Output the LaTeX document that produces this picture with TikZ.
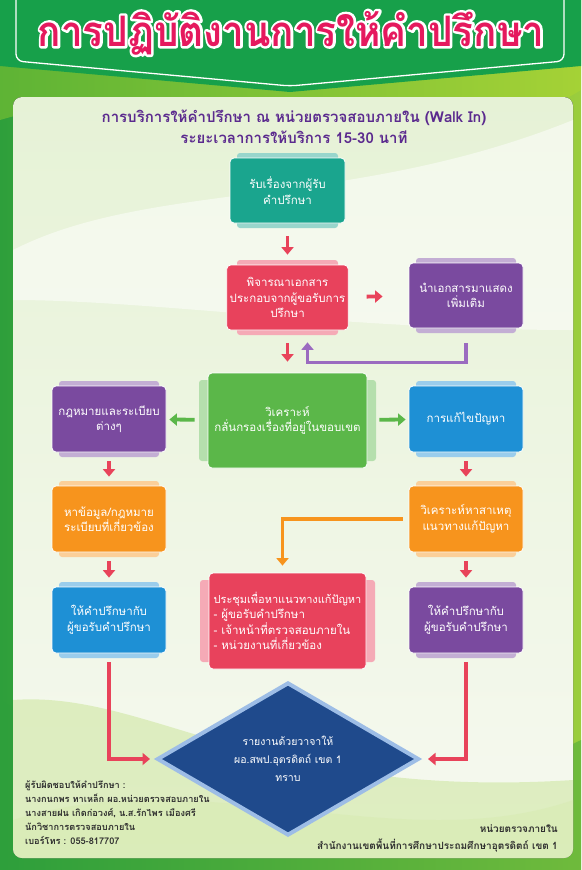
\documentclass[tikz,border=0pt]{standalone}
\usepackage{fontspec}
\setmainfont[Script=Thai]{Loma}
\usetikzlibrary{arrows.meta,shapes.geometric,calc}
\definecolor{bgdark}{HTML}{2E9F3B}
\definecolor{bglight}{HTML}{9BCD3D}
\definecolor{bannerg}{HTML}{17A04A}
\definecolor{titlepink}{HTML}{E5195E}
\definecolor{subpurple}{HTML}{5B2A8E}
\definecolor{cteal}{HTML}{1AA58E}
\definecolor{cred}{HTML}{E8425C}
\definecolor{cpurple}{HTML}{7A4A9F}
\definecolor{cgreen}{HTML}{5BB749}
\definecolor{cblue}{HTML}{1E90D5}
\definecolor{corange}{HTML}{F7941D}
\definecolor{cnavy}{HTML}{1F4A8C}
\definecolor{cdiamedge}{HTML}{9DBDE6}
\definecolor{arrred}{HTML}{E8435A}
\definecolor{arrgreen}{HTML}{5BB749}
\definecolor{arrpurple}{HTML}{9B6BC0}
\definecolor{panelA}{HTML}{E6F2D6}
\definecolor{panelB}{HTML}{F6F9F0}
\definecolor{foottext}{HTML}{2F2F2F}
\newcommand\mytabbox[7]{%
  \fill[#6!45!white, rounded corners=3pt] ({#2-#4/2+7},{#3-#5/2-5}) rectangle ({#2+#4/2-7},{#3+#5/2+5});
  \node[box, fill=#6, minimum width=#4pt, minimum height=#5pt] (#1) at (#2,#3) {#7};
}
\newcommand\mysidebox[8]{%
  \fill[#6!45!white, rounded corners=3pt] ({#2-#4/2-9},{#3-#5/2+7}) rectangle ({#2+#4/2+9},{#3+#5/2-7});
  \node[box, fill=#6, minimum width=#4pt, minimum height=#5pt, align=#8] (#1) at (#2,#3) {#7};
}
\newcommand\titletext{การปฏิบัติงานการให้คำปรึกษา}
\begin{document}
\begin{tikzpicture}[x=1pt,y=-1pt,
  box/.style={rounded corners=4pt, text=white, align=center, draw=white, line width=0.8pt, inner sep=3pt, font=\fontsize{11.5}{15.5}\selectfont},
  redarr/.style={draw=arrred, line width=3.8pt, -{Triangle[length=7.5pt,width=12pt]}},
  greenarr/.style={draw=arrgreen, line width=3.8pt, -{Triangle[length=7.5pt,width=12pt]}},
  purparr/.style={draw=arrpurple, line width=3.8pt, -{Triangle[length=7.5pt,width=12pt]}},
  orarr/.style={draw=corange, line width=3.8pt, -{Triangle[length=7.5pt,width=12pt]}},
  titlefont/.style={font=\bfseries\fontsize{42}{46}\selectfont},
  foot/.style={text=foottext, font=\bfseries\fontsize{9.2}{14}\selectfont, inner sep=0pt}]
\useasboundingbox (0,0) rectangle (581,870);
% background
\fill[left color=bgdark, right color=bglight] (0,0) rectangle (581,870);
\fill[bglight!70!yellow, opacity=0.35] (0,120) .. controls (200,60) and (400,200) .. (581,90) -- (581,0) -- (0,0) -- cycle;
\fill[bgdark, opacity=0.4] (0,870) -- (0,700) .. controls (200,820) and (400,830) .. (581,740) -- (581,870) -- cycle;
% banner
\fill[bannerg] (0,0) -- (0,66) -- (290,92) -- (581,66) -- (581,0) -- cycle;
\draw[white, line width=1.3pt, rounded corners=7pt] (16,-5) -- (16,61) -- (290,86) -- (564,61) -- (564,-5);
\node[titlefont, text=white] (titleedge) at (291,33) {\scalebox{0.92}[1]{\special{pdf:literal direct 2 Tr 5 w 1 j}\titletext\special{pdf:literal direct 0 Tr 0.4 w}}};
\node[titlefont, text=titlepink] (title) at (291,33) {\scalebox{0.92}[1]{\titletext}};
% panel
\fill[top color=panelA, bottom color=panelB, rounded corners=9pt] (13,97) rectangle (573,858);
\begin{scope}
\clip[rounded corners=9pt] (13,97) rectangle (573,858);
\fill[white, opacity=0.5] (13,250) .. controls (150,180) and (350,210) .. (573,120) -- (573,330) .. controls (350,330) and (150,300) .. (13,300) -- cycle;
\fill[bglight!60!white, opacity=0.45] (13,700) .. controls (150,690) and (260,800) .. (573,780) -- (573,858) -- (13,858) -- cycle;
\fill[bglight!40!white, opacity=0.5] (13,820) .. controls (200,760) and (400,860) .. (573,800) -- (573,858) -- (13,858) -- cycle;
\end{scope}
% subtitle
\node[text=subpurple, font=\bfseries\fontsize{15}{21}\selectfont, align=center] (sub) at (294,127) {การบริการให้คำปรึกษา ณ หน่วยตรวจสอบภายใน (Walk In)\\ระยะเวลาการให้บริการ 15-30 นาที};
% boxes
\mytabbox{b1}{287.5}{190.5}{115}{65}{cteal}{รับเรื่องจากผู้รับ\\คำปรึกษา}
\mytabbox{b2}{287.5}{297.5}{115}{65}{cred}{พิจารณาเอกสาร\\ประกอบจากผู้ขอรับการ\\ปรึกษา}
\mytabbox{b3}{466}{295.5}{114}{65}{cpurple}{นำเอกสารมาแสดง\\เพิ่มเติม}
\mysidebox{b4}{287.5}{420.5}{159}{95}{cgreen}{วิเคราะห์\\กลั่นกรองเรื่องที่อยู่ในขอบเขต}{center}
\mytabbox{L1}{109}{419}{114}{66}{cpurple}{กฎหมายและระเบียบ\\ต่างๆ}
\mytabbox{R1}{466}{419}{114}{66}{cblue}{การแก้ไขปัญหา}
\mytabbox{L2}{109}{519}{114}{66}{corange}{หาข้อมูล/กฎหมาย\\ระเบียบที่เกี่ยวข้อง}
\mytabbox{R2}{466}{519}{114}{66}{corange}{วิเคราะห์หาสาเหตุ\\แนวทางแก้ปัญหา}
\mytabbox{L3}{109}{620}{114}{66}{cblue}{ให้คำปรึกษากับ\\ผู้ขอรับคำปรึกษา}
\mytabbox{R3}{466}{620}{114}{66}{cpurple}{ให้คำปรึกษากับ\\ผู้ขอรับคำปรึกษา}
\mysidebox{C3}{287.5}{621}{157}{96}{cred}{\fontsize{11}{15.5}\selectfont ประชุมเพื่อหาแนวทางแก้ปัญหา\\- ผู้ขอรับคำปรึกษา\\- เจ้าหน้าที่ตรวจสอบภายใน\\- หน่วยงานที่เกี่ยวข้อง}{left}
% diamond
\node[diamond, fill=cnavy, draw=cdiamedge, line width=4pt, minimum width=262pt, minimum height=132pt, text=white, align=center, inner sep=0pt, font=\fontsize{10.5}{18}\selectfont] (D) at (288,759) {รายงานด้วยวาจาให้\\ผอ.สพป.อุตรดิตถ์ เขต 1\\ทราบ};
% connectors
\draw[redarr, shorten <=13pt, shorten >=10pt] (b1) -- (b2);
\draw[redarr, shorten <=18pt, shorten >=26pt] (b2) -- (b3);
\draw[redarr, shorten <=13pt, shorten >=11pt] (b2) -- (b4);
\draw[purparr] ([yshift=-15pt]b3.south) -- ++(0,19) -| ([xshift=20pt,yshift=-12pt]b2.south);
\draw[greenarr, shorten <=13pt, shorten >=3pt] (b4) -- (L1);
\draw[greenarr, shorten <=12pt, shorten >=3pt] (b4) -- (R1);
\draw[redarr, shorten <=9pt, shorten >=9pt] (L1) -- (L2);
\draw[redarr, shorten <=9pt, shorten >=9pt] (L2) -- (L3);
\draw[redarr, shorten <=9pt, shorten >=9pt] (R1) -- (R2);
\draw[redarr, shorten <=9pt, shorten >=9pt] (R2) -- (R3);
\draw[orarr] ([xshift=-6pt]R2.west) -| ([xshift=-5pt,yshift=7pt]C3.north);
\draw[redarr] ([yshift=-9pt]L3.south) |- ([xshift=-5pt]D.west);
\draw[redarr] ([yshift=-9pt]R3.south) |- ([xshift=7pt]D.east);
% footer
\node[foot, anchor=north west, align=left] (resp) at (25,781) {ผู้รับผิดชอบให้คำปรึกษา :\\นางกนกพร ทาเหล็ก ผอ.หน่วยตรวจสอบภายใน\\นางสายฝน เกิดก่อวงศ์, น.ส.รักไพร เมืองศรี\\นักวิชาการตรวจสอบภายใน\\เบอร์โทร : 055-817707};
\node[foot, anchor=south east, align=right, font=\bfseries\fontsize{10}{17}\selectfont] (office) at (558,852) {หน่วยตรวจภายใน\\สำนักงานเขตพื้นที่การศึกษาประถมศึกษาอุตรดิตถ์ เขต 1};
\end{tikzpicture}
\end{document}
